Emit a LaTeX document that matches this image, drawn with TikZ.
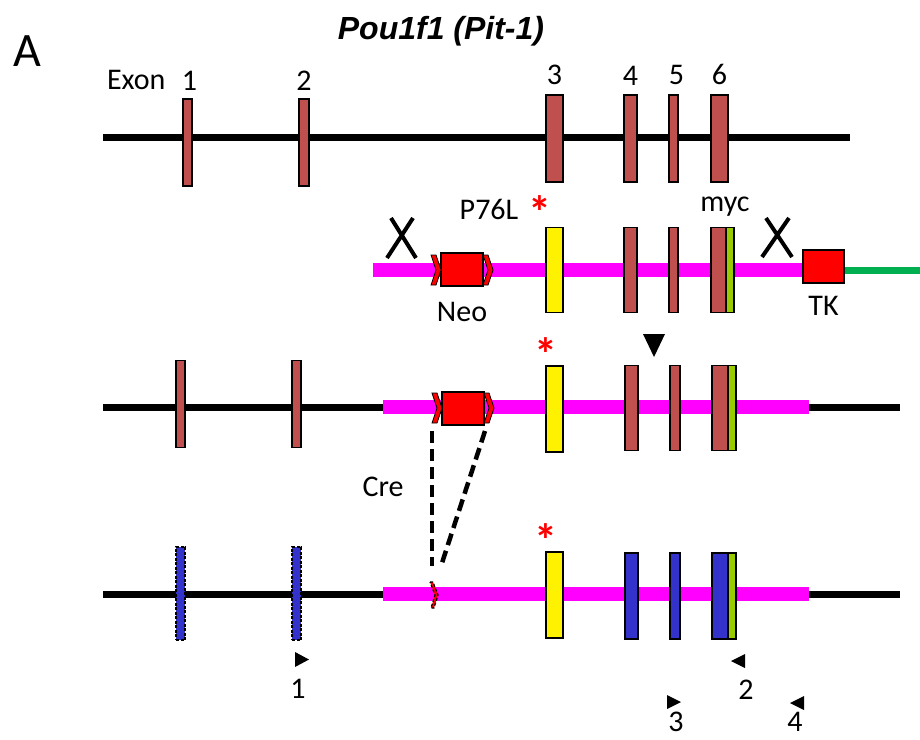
\documentclass[tikz,border=0pt]{standalone}
\usepackage{fontspec}
\setmainfont{Carlito}
\newfontfamily\titlefont{Liberation Sans}
\usetikzlibrary{positioning}

\definecolor{exonred}{HTML}{C0504D}
\definecolor{exonblue}{HTML}{3333CC}
\definecolor{tkgreen}{HTML}{00B050}
\definecolor{myclime}{HTML}{99CC00}
\definecolor{vecpink}{HTML}{FF00FF}

\tikzset{
    exon/.style={draw=black,line width=1.6,fill=exonred,inner sep=0pt,minimum width=#1},
    exon/.default=13,
    lbl/.style={font=\fontsize{30}{32}\selectfont,inner sep=0pt},
    star/.style={text=red,font=\bfseries\fontsize{46}{46}\selectfont,inner sep=0pt},
    cassette/.style={draw=black,line width=1.6,fill=red,inner sep=0pt,minimum width=42,minimum height=33},
    loxp/.pic={\draw[fill=red,line width=0.8](-5,-15)--(0,-15)--(5,0)--(0,15)--(-5,15)--(0,0)--cycle;}
}

\begin{document}
\begin{tikzpicture}[x=1pt,y=-1pt]
    \useasboundingbox(0,0)rectangle(920,739);

    \node[font=\titlefont\bfseries\itshape\fontsize{32}{34}\selectfont,inner sep=0pt](title)at(441,31){Pou1f1 (Pit-1)};
    \node[font=\fontsize{48}{50}\selectfont,inner sep=0pt](panel)at(27,51){A};

    % wild-type locus
    \coordinate(r1a)at(103,137);
    \coordinate(r1b)at(850,137);
    \draw[line width=7](r1a)--(r1b);
    \node[exon=9,minimum height=87](r1e1)at(187.5,142.5){};
    \node[exon=10,minimum height=87](r1e2)at(304,142.5){};
    \node[exon=17,minimum height=87](r1e3)at(554.5,138.5){};
    \node[exon=13,minimum height=87](r1e4)at(630.5,138.5){};
    \node[exon=9,minimum height=87](r1e5)at(673.5,138.5){};
    \node[exon=17,minimum height=87](r1e6)at(719.5,138.5){};
    \node[lbl,above=8pt of r1e1,xshift=2pt](n1){1};
    \node[lbl,left=16pt of n1](exonlbl){Exon};
    \node[lbl,above=8pt of r1e2](n2){2};
    \node[lbl,above=9pt of r1e3](n3){3};
    \node[lbl,above=9pt of r1e4](n4){4};
    \node[lbl,above=9pt of r1e5,xshift=3pt](n5){5};
    \node[lbl,above=9pt of r1e6](n6){6};

    % targeting vector
    \coordinate(r2a)at(373,270);
    \coordinate(r2b)at(920,270);
    \node[cassette,minimum width=41](tk)at(823.5,266.5){};
    \draw[line width=14,vecpink](r2a)--(r2a-|tk.west);
    \draw[line width=7,tkgreen](tk.east|-r2b)--(r2b);
    \node[cassette](neo2)at(462,269.5){};
    \pic at(436,270){loxp};
    \pic at(488,270){loxp};
    \node[exon=17,fill=yellow,minimum height=85](r2e3)at(554.5,270){};
    \node[exon=13,minimum height=85](r2e4)at(630.5,270){};
    \node[exon=9,minimum height=85](r2e5)at(673.5,270){};
    \node[exon=15,minimum height=85](r2e6)at(718.5,270){};
    \node[exon=8,fill=myclime,minimum height=85](r2myc)at(730,270){};
    \draw[line width=4](391,218)--(416,258)(413,218)--(387,258);
    \draw[line width=4](766,218)--(792,257)(789,218)--(762,257);
    \node[lbl,below=15pt of neo2](neolbl){Neo};
    \node[lbl,below=12pt of tk](tklbl){TK};
    \node[star](s2)at(540,212){*};
    \node[lbl](mut)at(489,209){P76L};
    \node[lbl](myclbl)at(725,207){myc};

    % targeted allele
    \coordinate(r3a)at(103,407);
    \coordinate(r3b)at(383,407);
    \coordinate(r3c)at(809,407);
    \coordinate(r3d)at(900,407);
    \draw[line width=7](r3a)--(r3b);
    \draw[line width=14,vecpink](r3b)--(r3c);
    \draw[line width=7](r3c)--(r3d);
    \node[exon=9,minimum height=87](r3e1)at(180.5,404){};
    \node[exon=9,minimum height=87](r3e2)at(296.5,404){};
    \node[cassette](neo3)at(463,408.5){};
    \pic at(437,408){loxp};
    \pic at(489,408){loxp};
    \node[exon=17,fill=yellow,minimum height=86](r3e3)at(554.5,409){};
    \node[exon=13,minimum height=85](r3e4)at(631.5,408){};
    \node[exon=10,minimum height=85](r3e5)at(675,408){};
    \node[exon=16,minimum height=85](r3e6)at(720,408){};
    \node[exon=8,fill=myclime,minimum height=85](r3myc)at(732,408){};
    \fill(643,334)--(665,334)--(654,357)--cycle;
    \node[star](s3)at(546,354){*};

    % after Cre excision
    \coordinate(r4a)at(103,594);
    \coordinate(r4b)at(383,594);
    \coordinate(r4c)at(809,594);
    \coordinate(r4d)at(900,594);
    \draw[line width=7](r4a)--(r4b);
    \draw[line width=14,vecpink](r4b)--(r4c);
    \draw[line width=7](r4c)--(r4d);
    \node[exon=9,fill=exonblue,dash pattern=on 3 off 1.5,minimum height=93](r4e1)at(180.5,593.5){};
    \node[exon=9,fill=exonblue,dash pattern=on 3 off 1.5,minimum height=93](r4e2)at(296.5,593.5){};
    \node[exon=17,fill=yellow,minimum height=86](r4e3)at(554.5,595){};
    \node[exon=13,fill=exonblue,minimum height=86](r4e4)at(631.5,596){};
    \node[exon=10,fill=exonblue,minimum height=86](r4e5)at(675,596){};
    \node[exon=16,fill=exonblue,minimum height=86](r4e6)at(720,596){};
    \node[exon=8,fill=myclime,minimum height=86](r4myc)at(732,596){};
    \draw[fill=red,line width=1.2,dash pattern=on 3 off 2](430,582)--(433,582)--(438,595)--(434,608)--(431,608)--(435,595)--cycle;
    \node[star](s4)at(546,540){*};

    % Cre recombination
    \coordinate(cre1)at(432,431);
    \coordinate(cre2)at(485,431);
    \coordinate(cut1)at(432,566);
    \coordinate(cut2)at(441,566);
    \draw[line width=4.5,dash pattern=on 12 off 6](cre1)--(cut1);
    \draw[line width=4.5,dash pattern=on 12 off 6](cre2)--(cut2);
    \node[lbl](crelbl)at(383,487){Cre};

    % primers
    \fill(295,652)--(309,659.5)--(295,667)--cycle;
    \node[lbl](p1)at(298,689){1};
    \fill(745,654)--(731,661)--(745,668)--cycle;
    \node[lbl](p2)at(746,690){2};
    \fill(667,695)--(681,702)--(667,709)--cycle;
    \node[lbl](p3)at(676,722){3};
    \fill(804,696)--(790,703)--(804,710)--cycle;
    \node[lbl](p4)at(795,722){4};
\end{tikzpicture}
\end{document}
